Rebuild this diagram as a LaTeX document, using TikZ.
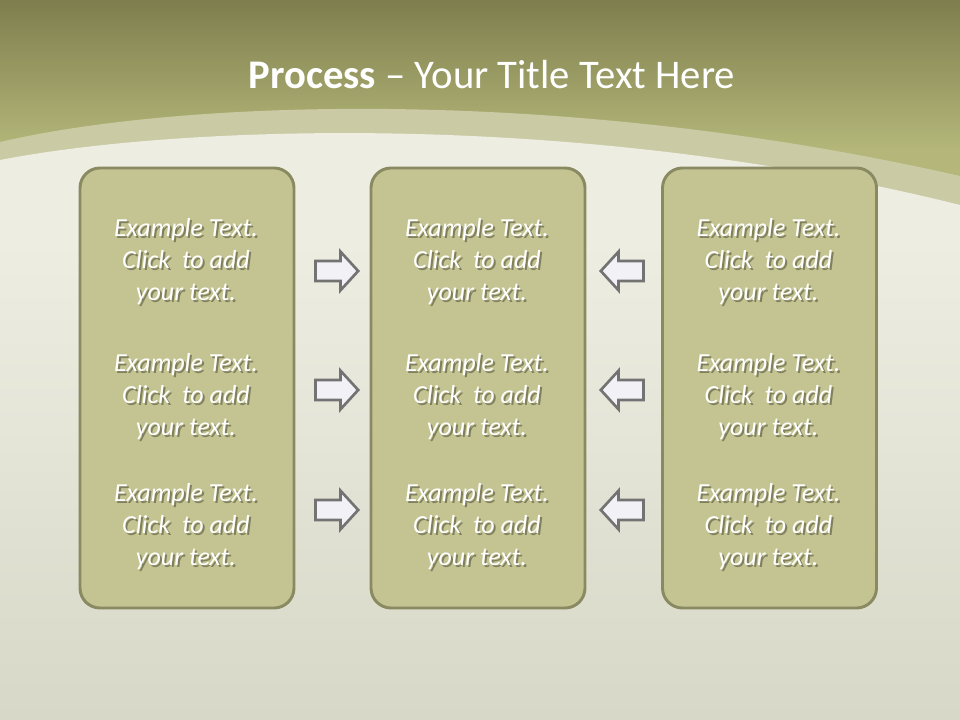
\documentclass[tikz,border=0pt]{standalone}
\usepackage{fontspec}
\setmainfont{Carlito}
\usetikzlibrary{shapes.arrows}
\definecolor{bandtop}{HTML}{7E7E4E}
\definecolor{bandbot}{HTML}{B4B779}
\definecolor{paper}{HTML}{EDEDE2}
\definecolor{paperlow}{HTML}{D8D8C8}
\definecolor{archband}{HTML}{CACBA5}
\definecolor{boxfill}{HTML}{C4C492}
\definecolor{boxline}{HTML}{8A8A62}
\definecolor{arrowfill}{HTML}{F2F2F6}
\definecolor{arrowline}{HTML}{737373}
\newcommand{\shline}[1]{\makebox[0pt][l]{\kern1.5pt\raisebox{-1.8pt}{\color{boxfill!65!black}#1}}#1}
\tikzset{
  panel/.style={draw=boxline, line width=2.2pt, fill=boxfill, rounded corners=15pt,
    minimum width=160.5pt, minimum height=330pt, inner sep=0pt},
  btext/.style={text=white, font=\fontsize{19.5pt}{24pt}\selectfont\itshape, align=center, inner sep=0pt},
  blockarrow/.style={single arrow, draw=arrowline, fill=arrowfill, line width=2pt,
    minimum height=32pt, inner sep=6.5pt, single arrow head extend=7pt, single arrow tip angle=95, anchor=tip},
}
\begin{document}
\begin{tikzpicture}[x=0.75pt,y=-0.75pt]
\useasboundingbox (0,0) rectangle (960,720);
% background
\fill[top color=paper, bottom color=paperlow] (0,240) rectangle (960,720);
\fill[top color=bandtop, bottom color=bandbot] (0,0) rectangle (960,150);
\fill[bandbot] (0,149) rectangle (960,241);
% arch band (lighter)
\fill[archband] (0,142) .. controls (180,100) and (560,85) .. (960,176) -- (960,245) -- (0,245) -- cycle;
% paper arch
\fill[paper] (0,160) .. controls (180,125) and (580,110) .. (960,205) -- (960,245) -- (0,245) -- cycle;
% title
\node[text=white, inner sep=0pt, font=\fontsize{30.5pt}{36pt}\selectfont] (title) at (492,75)
  {\textbf{Process} – Your Title Text Here};
% panels
\node[panel] (p1) at (187,388) {};
\node[panel] (p2) at (478,388) {};
\node[panel] (p3) at (769.5,388) {};
% texts
\foreach \col/\cx in {1/186,2/477,3/768.5}{
  \foreach \row/\cy in {1/262.5,2/397.5,3/527.5}{
    \node[btext] (t\col\row) at (\cx,\cy) {\shline{Example Text.}\\\shline{Click\ \ to add}\\\shline{your text.}};
  }
}
% arrows
\foreach \row/\cy in {1/271,2/390,3/510}{
  \node[blockarrow] (r\row) at (360,\cy) {};
  \node[blockarrow, shape border rotate=180] (l\row) at (599,\cy) {};
}
\end{tikzpicture}
\end{document}
